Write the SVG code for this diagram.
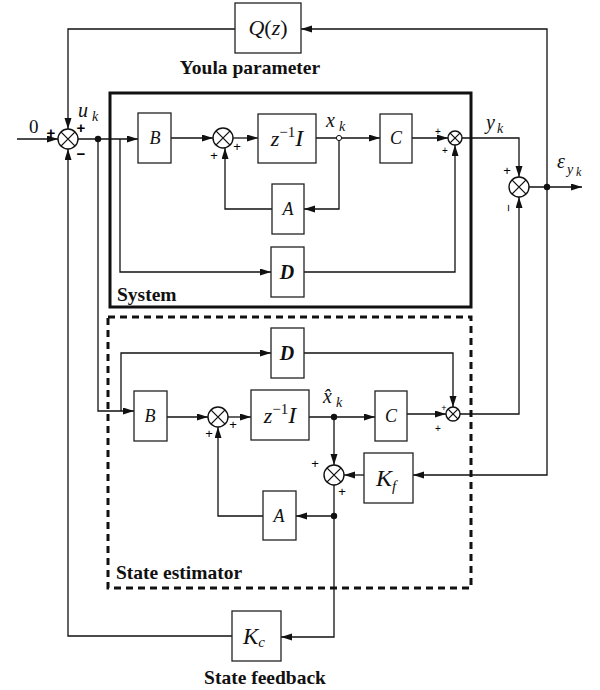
<svg xmlns="http://www.w3.org/2000/svg" width="600" height="690" viewBox="0 0 600 690">
<style>
.blk{fill:#fff;stroke:#222;stroke-width:1.3}
.ln{fill:none;stroke:#111;stroke-width:1.3}
.arr{marker-end:url(#ah)}
.sum{fill:#fff;stroke:#111;stroke-width:1.4}
.mi{font-family:"Liberation Serif",serif;font-style:italic;fill:#111}
.mr{font-family:"Liberation Serif",serif;fill:#111}
.bd{font-family:"Liberation Serif",serif;font-weight:bold;fill:#111}
.sg{font-family:"Liberation Sans",sans-serif;fill:#000}
</style>
<defs>
<marker id="ah" markerUnits="userSpaceOnUse" markerWidth="11" markerHeight="8" refX="11" refY="3.5" orient="auto">
<path d="M0,0 L11,3.5 L0,7 z" fill="#111"/>
</marker>
<g id="sx"><path d="M-7.1,-7.1 L7.1,7.1 M-7.1,7.1 L7.1,-7.1" stroke="#111" stroke-width="1.3"/></g>
<g id="sxs"><path d="M-4.9,-4.9 L4.9,4.9 M-4.9,4.9 L4.9,-4.9" stroke="#111" stroke-width="1.3"/></g>
</defs>

<!-- frames -->
<g id="system-frame">
<rect x="110" y="93" width="361" height="214" fill="none" stroke="#111" stroke-width="3"/>
<text class="bd" x="117" y="301" font-size="19.5">System</text>
</g>
<g id="estimator-frame">
<rect x="108" y="317" width="363" height="271" fill="none" stroke="#111" stroke-width="3" stroke-dasharray="7,5"/>
<text class="bd" x="116" y="579" font-size="19.5">State estimator</text>
</g>

<g id="connectors">
<path class="ln arr" d="M17,139 H58"/>
<path class="ln arr" d="M235,29 H68 V129"/>
<path class="ln arr" d="M547,187 V29 H301"/>
<path class="ln arr" d="M547,187 V475 H413"/>
<path class="ln arr" d="M78,139 H138"/>
<path class="ln arr" d="M98,139 V411 H134"/>
<path class="ln arr" d="M120,139 V272 H271"/>
<path class="ln arr" d="M121,411 V353 H271"/>
<path class="ln arr" d="M171,138 H213"/>
<path class="ln arr" d="M233,138 H258"/>
<path class="ln arr" d="M316,138 H380"/>
<path class="ln arr" d="M339,138 V209 H304"/>
<path class="ln arr" d="M272,209 H225 V148"/>
<path class="ln arr" d="M412,138 H448"/>
<path class="ln arr" d="M304,272 H455 V145"/>
<path class="ln arr" d="M462,138 H519 V177"/>
<path class="ln arr" d="M529,187 H582"/>
<path class="ln arr" d="M460,414 H519 V197"/>
<path class="ln arr" d="M167,417 H208"/>
<path class="ln arr" d="M228,417 H251"/>
<path class="ln arr" d="M309,417 H375"/>
<path class="ln arr" d="M407,414 H446"/>
<path class="ln arr" d="M304,353 H453 V407"/>
<path class="ln arr" d="M334,417 V465"/>
<path class="ln arr" d="M364,475 H344"/>
<path class="ln arr" d="M334,485 V637 H281"/>
<path class="ln arr" d="M334,516 H296"/>
<path class="ln arr" d="M263,516 H218 V427"/>
<path class="ln arr" d="M232,636 H68 V149"/>
<circle cx="98" cy="139" r="3.2" fill="#111"/>
<circle cx="547" cy="187" r="3.2" fill="#111"/>
<circle cx="334" cy="417" r="3.2" fill="#111"/>
<circle cx="334" cy="516" r="3.2" fill="#111"/>
<circle cx="339" cy="138" r="2.6" fill="#fff" stroke="#111" stroke-width="1"/>
</g>

<!-- input and signals -->
<g id="signal-labels">
<text class="mr" x="29" y="133" font-size="19">0</text>
<text class="mi" x="78" y="117" font-size="20">u</text><text class="mi" x="92" y="121" font-size="14">k</text>
<text class="mi" x="326" y="127" font-size="20">x</text><text class="mi" x="339" y="131" font-size="14">k</text>
<text class="mi" x="486" y="129" font-size="20">y</text><text class="mi" x="497" y="133" font-size="14">k</text>
<text class="mi" x="557" y="168" font-size="20">ε</text><text class="mi" x="567" y="174" font-size="14">y</text><text class="mi" x="576" y="176" font-size="12">k</text>
<text class="mi" x="323" y="403" font-size="20">x̂</text><text class="mi" x="336" y="407" font-size="14">k</text>
</g>

<!-- summing junctions -->
<g id="sum-in">
<circle class="sum" cx="68" cy="139" r="10"/><use href="#sx" x="68" y="139"/>
<text class="sg" x="51" y="138" font-size="15" font-weight="bold" text-anchor="middle">+</text>
<text class="sg" x="81" y="133" font-size="15" font-weight="bold" text-anchor="middle">+</text>
<text class="sg" x="81" y="159" font-size="15" font-weight="bold" text-anchor="middle">−</text>
</g>
<g id="sum-sys-state">
<circle class="sum" cx="223" cy="138" r="10"/><use href="#sx" x="223" y="138"/>
<text class="sg" x="237" y="151" font-size="13" text-anchor="middle">+</text>
<text class="sg" x="214" y="160" font-size="13" text-anchor="middle">+</text>
</g>
<g id="sum-sys-out">
<circle class="sum" cx="455" cy="138" r="7"/><use href="#sxs" x="455" y="138"/>
<text class="sg" x="438" y="135" font-size="10" text-anchor="middle">+</text>
<text class="sg" x="445" y="154" font-size="10" text-anchor="middle">+</text>
</g>
<g id="sum-err">
<circle class="sum" cx="519" cy="187" r="10"/><use href="#sx" x="519" y="187"/>
<text class="sg" x="507" y="175" font-size="13" text-anchor="middle">+</text>
<text class="sg" x="508" y="212" font-size="13" text-anchor="middle" transform="rotate(90 508 208)">−</text>
</g>
<g id="sum-est-state">
<circle class="sum" cx="218" cy="417" r="10"/><use href="#sx" x="218" y="417"/>
<text class="sg" x="233" y="429" font-size="13" text-anchor="middle">+</text>
<text class="sg" x="209" y="438" font-size="13" text-anchor="middle">+</text>
</g>
<g id="sum-est-out">
<circle class="sum" cx="453" cy="414" r="7"/><use href="#sxs" x="453" y="414"/>
<text class="sg" x="444" y="411" font-size="9" text-anchor="middle">+</text>
<text class="sg" x="438" y="432" font-size="10" text-anchor="middle">+</text>
</g>
<g id="sum-est-corr">
<circle class="sum" cx="334" cy="475" r="10"/><use href="#sx" x="334" y="475"/>
<text class="sg" x="315" y="468" font-size="13" text-anchor="middle">+</text>
<text class="sg" x="342" y="496" font-size="13" text-anchor="middle">+</text>
</g>

<!-- blocks -->
<g id="Q">
<rect class="blk" x="235" y="3" width="66" height="50"/>
<text x="268" y="35" font-size="22" text-anchor="middle"><tspan class="mi">Q</tspan><tspan class="mr">(</tspan><tspan class="mi">z</tspan><tspan class="mr">)</tspan></text>
<text class="bd" x="250" y="74" font-size="19.5" text-anchor="middle">Youla parameter</text>
</g>
<g id="sys-B">
<rect class="blk" x="138" y="113" width="33" height="50"/>
<text class="mi" x="155" y="144" font-size="18" text-anchor="middle">B</text>
</g>
<g id="sys-z">
<rect class="blk" x="258" y="114" width="58" height="49"/>
<text x="287" y="146" text-anchor="middle"><tspan class="mi" font-size="22">z</tspan><tspan class="mr" font-size="15" dy="-9">−1</tspan><tspan class="mi" font-size="24" dy="9">I</tspan></text>
</g>
<g id="sys-C">
<rect class="blk" x="380" y="114" width="32" height="49"/>
<text class="mi" x="396" y="144" font-size="18" text-anchor="middle">C</text>
</g>
<g id="sys-A">
<rect class="blk" x="272" y="184" width="32" height="50"/>
<text class="mi" x="288" y="215" font-size="18" text-anchor="middle">A</text>
</g>
<g id="sys-D">
<rect class="blk" x="271" y="247" width="33" height="50"/>
<text class="mi" x="287" y="279" font-size="20" font-weight="bold" text-anchor="middle">D</text>
</g>
<g id="est-D">
<rect class="blk" x="271" y="328" width="33" height="50"/>
<text class="mi" x="287" y="360" font-size="20" font-weight="bold" text-anchor="middle">D</text>
</g>
<g id="est-B">
<rect class="blk" x="134" y="391" width="33" height="50"/>
<text class="mi" x="150" y="422" font-size="18" text-anchor="middle">B</text>
</g>
<g id="est-z">
<rect class="blk" x="251" y="390" width="58" height="50"/>
<text x="280" y="423" text-anchor="middle"><tspan class="mi" font-size="22">z</tspan><tspan class="mr" font-size="15" dy="-9">−1</tspan><tspan class="mi" font-size="24" dy="9">I</tspan></text>
</g>
<g id="est-C">
<rect class="blk" x="375" y="391" width="32" height="50"/>
<text class="mi" x="391" y="422" font-size="18" text-anchor="middle">C</text>
</g>
<g id="Kf">
<rect class="blk" x="364" y="453" width="49" height="50"/>
<text x="386" y="486" text-anchor="middle"><tspan class="mi" font-size="24">K</tspan><tspan class="mi" font-size="15" dy="5">f</tspan></text>
</g>
<g id="est-A">
<rect class="blk" x="263" y="491" width="33" height="49"/>
<text class="mi" x="279" y="522" font-size="18" text-anchor="middle">A</text>
</g>
<g id="Kc">
<rect class="blk" x="232" y="611" width="49" height="50"/>
<text x="254" y="644" text-anchor="middle"><tspan class="mi" font-size="23">K</tspan><tspan class="mi" font-size="15" dy="3">c</tspan></text>
<text class="bd" x="265" y="684" font-size="19.5" text-anchor="middle">State feedback</text>
</g>
</svg>
